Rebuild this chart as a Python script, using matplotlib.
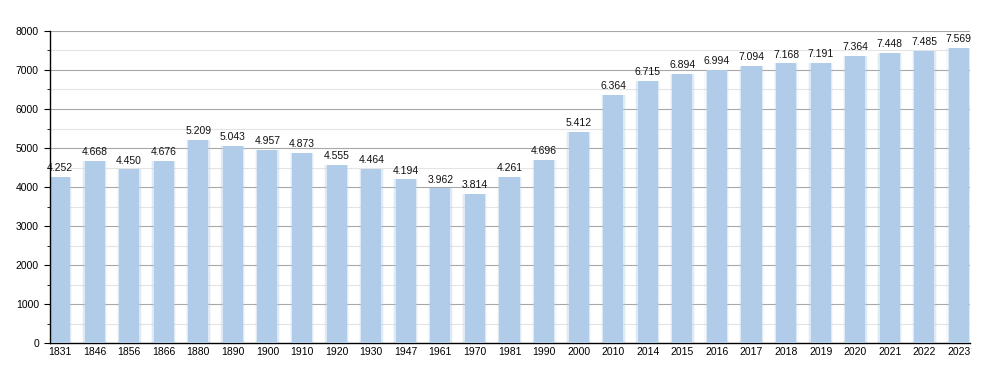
import matplotlib
matplotlib.use("Agg")
import matplotlib.pyplot as plt
import numpy as np

years = ["1831", "1846", "1856", "1866", "1880", "1890", "1900", "1910", "1920", "1930",
         "1947", "1961", "1970", "1981", "1990", "2000", "2010", "2014", "2015", "2016",
         "2017", "2018", "2019", "2020", "2021", "2022", "2023"]
population = [4252, 4668, 4450, 4676, 5209, 5043, 4957, 4873, 4555, 4464,
              4194, 3962, 3814, 4261, 4696, 5412, 6364, 6715, 6894, 6994,
              7094, 7168, 7191, 7364, 7448, 7485, 7569]

plt.rcParams['font.family'] = ['Liberation Sans', 'DejaVu Sans']
fig = plt.figure(figsize=(10, 3.73), dpi=100)
ax = fig.add_axes([0.05, 0.0804, 0.92, 0.8365])

x = np.arange(len(years))
bar_color = "#b0cce8"
# soft blurred edges
for w, a in [(0.72, 0.12), (0.66, 0.3)]:
    ax.bar(x, population, width=w, color=bar_color, alpha=a, linewidth=0, zorder=2)
ax.bar(x, population, width=0.58, color=bar_color, linewidth=0, zorder=3)

for xi, v in zip(x, population):
    s = f"{v:,}".replace(",", ".")
    ax.text(xi, v + 100, s, ha="center", va="bottom", fontsize=7.5, color="#111111", zorder=4)

ax.set_ylim(0, 8000)
ax.set_xlim(-0.29, len(years) - 1 + 0.32)
ax.set_yticks(np.arange(0, 8001, 1000))
ax.set_yticks(np.arange(500, 8000, 1000), minor=True)
ax.set_xticks(x)
ax.set_xticklabels(years)
ax.tick_params(axis="x", length=0, labelsize=7.5, pad=3)
ax.tick_params(axis="y", which="major", length=4, labelsize=7.5, pad=4)
ax.tick_params(axis="y", which="minor", length=2)

for yv in np.arange(1000, 8001, 1000):
    ax.axhline(yv, color="#a8a8a8", linewidth=0.8, zorder=1)
for yv in np.arange(500, 8000, 1000):
    ax.axhline(yv, color="#e4e4e4", linewidth=0.8, zorder=1)

for sp in ["top", "right"]:
    ax.spines[sp].set_visible(False)
ax.spines["left"].set_color("#000000")
ax.spines["bottom"].set_color("#000000")
ax.spines["left"].set_linewidth(1.0)
ax.spines["bottom"].set_linewidth(1.0)
ax.spines["left"].set_zorder(5)

fig.savefig("out.png", dpi=100)
